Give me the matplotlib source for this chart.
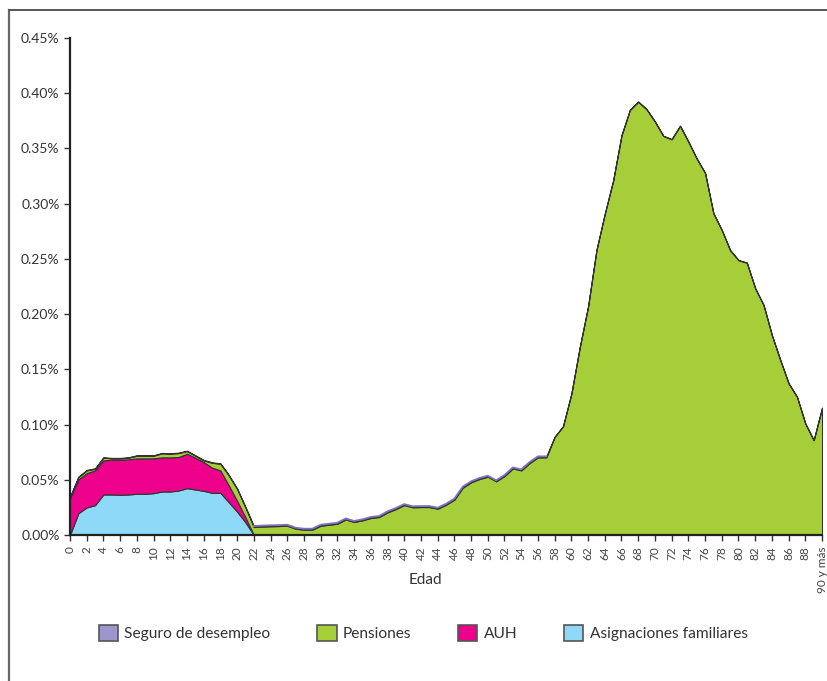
import matplotlib
matplotlib.use("Agg")
import matplotlib.pyplot as plt
from matplotlib.lines import Line2D
from matplotlib.ticker import FuncFormatter

plt.rcParams['font.family'] = ['Lato', 'DejaVu Sans']

# edades 0..90 (90 = "90 y más")
edad = list(range(0, 91))

# valores en % de la poblacion
asignaciones = [0.0, 0.0197, 0.025, 0.027, 0.0367, 0.0367, 0.0364, 0.0367, 0.0373, 0.0373,
                0.0379, 0.0394, 0.0394, 0.0403, 0.0424, 0.0412, 0.040, 0.0382, 0.0382, 0.0297,
                0.0212, 0.0115,
                0, 0, 0, 0, 0, 0, 0, 0, 0, 0, 0, 0, 0, 0, 0, 0, 0, 0, 0, 0, 0, 0, 0,
                0, 0, 0, 0, 0, 0, 0, 0, 0, 0, 0, 0, 0, 0, 0, 0, 0, 0, 0, 0, 0, 0, 0,
                0, 0, 0, 0, 0, 0, 0, 0, 0, 0, 0, 0, 0, 0, 0, 0, 0, 0, 0, 0, 0, 0, 0]
auh = [0.0333, 0.0306, 0.031, 0.0315, 0.0309, 0.0315, 0.0318, 0.0318, 0.0321, 0.0321,
       0.0315, 0.0309, 0.0309, 0.0303, 0.0312, 0.0288, 0.026, 0.0228, 0.0203, 0.0153,
       0.0098, 0.0045,
       0, 0, 0, 0, 0, 0, 0, 0, 0, 0, 0, 0, 0, 0, 0, 0, 0, 0, 0, 0, 0, 0, 0,
       0, 0, 0, 0, 0, 0, 0, 0, 0, 0, 0, 0, 0, 0, 0, 0, 0, 0, 0, 0, 0, 0, 0,
       0, 0, 0, 0, 0, 0, 0, 0, 0, 0, 0, 0, 0, 0, 0, 0, 0, 0, 0, 0, 0, 0, 0]
pensiones = [0.0009, 0.0021, 0.0025, 0.0015, 0.0024, 0.0012, 0.0012, 0.0015, 0.0024, 0.0024,
             0.0024, 0.0036, 0.0033, 0.0036, 0.0024, 0.0018, 0.0016, 0.0044, 0.006, 0.009,
             0.0108, 0.009,
             0.0072, 0.0076, 0.0079, 0.0081, 0.0084, 0.0057, 0.0048, 0.0048, 0.0084, 0.0093,
             0.0102, 0.0141, 0.0118, 0.0133, 0.0154, 0.0163, 0.0205, 0.0235, 0.0271, 0.0251,
             0.0253, 0.0253, 0.0238, 0.0274, 0.032, 0.0428, 0.0477, 0.0507, 0.0528, 0.0486,
             0.0534, 0.0603, 0.0585, 0.0651, 0.0703, 0.0703,
             0.0888, 0.0984, 0.1278, 0.1698, 0.2068, 0.2578, 0.2908, 0.3208, 0.3618, 0.3848,
             0.3923, 0.3854, 0.3743, 0.3613, 0.3583, 0.3704, 0.3561, 0.3408, 0.3278, 0.2912,
             0.2761, 0.2578, 0.2488, 0.2465, 0.2233, 0.2082, 0.1808, 0.1584, 0.1372, 0.1251,
             0.1008, 0.0858, 0.1151]
seguro = [0.0004, 0.0004, 0.0004, 0.0004, 0.0004, 0.0004, 0.0004, 0.0004, 0.0004, 0.0004,
          0.0004, 0.0004, 0.0004, 0.0004, 0.0004, 0.0004, 0.0004, 0.0004, 0.0004, 0.0004,
          0.0004, 0.0004,
          0.0009, 0.0009, 0.0009, 0.0009, 0.0009, 0.0009, 0.0009, 0.0009, 0.0009, 0.0009,
          0.0009, 0.0009, 0.0009, 0.0009, 0.0009, 0.0009, 0.0009, 0.0009, 0.0009, 0.0009,
          0.0009, 0.0009, 0.0009, 0.0009, 0.0009, 0.0009, 0.0009, 0.0009, 0.0009, 0.0009,
          0.0009, 0.0009, 0.0009, 0.0009, 0.0009, 0.0009,
          0.0002, 0.0002, 0.0002, 0.0002, 0.0002, 0.0002, 0.0002, 0.0002, 0.0002, 0.0002,
          0.0002, 0.0002, 0.0002, 0.0002, 0.0002, 0.0002, 0.0002, 0.0002, 0.0002, 0.0002,
          0.0002, 0.0002, 0.0002, 0.0002, 0.0002, 0.0002, 0.0002, 0.0002, 0.0002, 0.0002,
          0.0002, 0.0002, 0.0002]

tick_pos = list(range(0, 91, 2))
tick_lab = [str(t) for t in range(0, 90, 2)] + ['90 y más']

fig = plt.figure(figsize=(8.28, 6.81), dpi=100)
ax = fig.add_axes([0.0845, 0.2144, 0.9083, 0.7298])

colores = ['#8ED8F8', '#EC008C', '#A6CE39', '#9B97CC']
ax.stackplot(edad, asignaciones, auh, pensiones, seguro,
             colors=colores, edgecolor='#333333', linewidth=0.8,
             labels=['Asignaciones familiares', 'AUH', 'Pensiones', 'Seguro de desempleo'])
# borde violeta del seguro de desempleo
tope = [a + b + c + d for a, b, c, d in zip(asignaciones, auh, pensiones, seguro)]
ax.plot(edad[22:58], tope[22:58], color='#7B75C0', lw=1.3, zorder=3)

ax.set_xlim(0, 90)
ax.set_ylim(0, 0.45)
ax.set_yticks([0, 0.05, 0.10, 0.15, 0.20, 0.25, 0.30, 0.35, 0.40, 0.45])
ax.yaxis.set_major_formatter(FuncFormatter(lambda v, p: '%.2f%%' % v))
ax.set_xticks(tick_pos)
ax.set_xticklabels(tick_lab, rotation=90)
ax.tick_params(axis='y', labelsize=10, colors='#333333', length=4, width=1)
ax.tick_params(axis='x', labelsize=8.5, length=4, width=1, colors='#333333', pad=4)
for lab in ax.get_xticklabels():
    lab.set_color('#444444')

for s in ['top', 'right']:
    ax.spines[s].set_visible(False)
ax.spines['left'].set_linewidth(1.6)
ax.spines['bottom'].set_linewidth(1.6)
ax.spines['left'].set_color('#222222')
ax.spines['bottom'].set_color('#222222')

ax.set_xlabel('Edad', fontsize=11, color='#333333')
ax.xaxis.set_label_coords(0.472, -0.077)

h, l = ax.get_legend_handles_labels()
leg = fig.legend(h[::-1], l[::-1], loc='center', bbox_to_anchor=(0.511, 0.0705), ncol=4,
                 frameon=False, fontsize=11.2, handlelength=1.25, handleheight=1.25,
                 columnspacing=3.0, handletextpad=0.4)
for t in leg.get_texts():
    t.set_color('#333333')
for p in leg.get_patches():
    p.set_edgecolor('#555555')
    p.set_linewidth(1.2)

# marco de la figura (izquierda y arriba)
fig.add_artist(Line2D([8.5 / 828, 8.5 / 828], [0, 1 - 10 / 681], color='#666666', lw=1.6))
fig.add_artist(Line2D([8.5 / 828, 1], [1 - 10 / 681, 1 - 10 / 681], color='#555555', lw=1.4))

fig.savefig('out.png', dpi=100)
